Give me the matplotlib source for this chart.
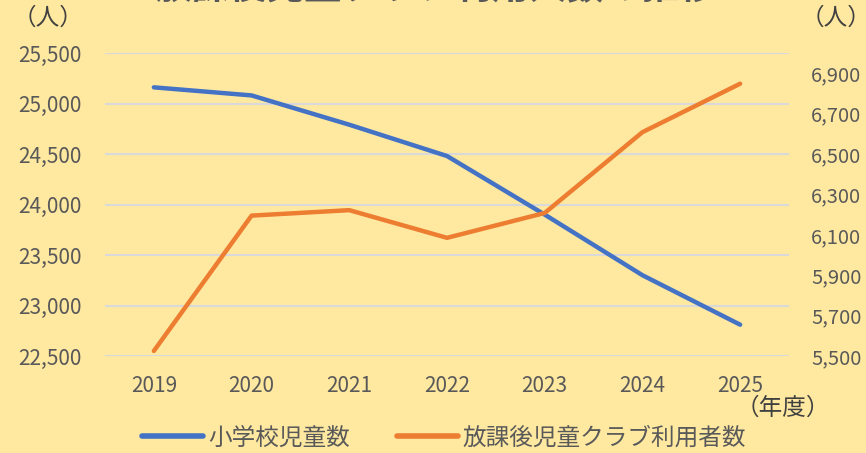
import matplotlib.pyplot as plt
from matplotlib.ticker import FuncFormatter, FixedLocator

plt.rcParams["font.family"] = ["Noto Sans CJK JP", "DejaVu Sans"]

years = ["2019", "2020", "2021", "2022", "2023", "2024", "2025"]
students = [25160, 25080, 24790, 24480, 23900, 23300, 22810]
club_users = [5525, 6195, 6222, 6085, 6208, 6608, 6848]

bg = "#FFE9A1"
text_color = "#595959"
blue = "#4472C4"
orange = "#ED7D31"

fig = plt.figure(figsize=(8.66, 4.53), dpi=100, facecolor=bg)
ax = fig.add_axes([105 / 866, 1 - 356 / 453, (789 - 105) / 866, (356 - 53) / 453])
ax.set_facecolor(bg)
ax2 = ax.twinx()

x = range(len(years))
ax.plot(x, students, color=blue, lw=3.2, solid_capstyle="round", solid_joinstyle="round", zorder=3)
ax2.plot(x, club_users, color=orange, lw=3.2, solid_capstyle="round", solid_joinstyle="round", zorder=3)

ax.set_xlim(-0.5, len(years) - 0.5)
ax.set_ylim(22500, 25500)
ax2.set_ylim(5500, 7000)
ax.set_yticks(range(22500, 25501, 500))
ax2.yaxis.set_major_locator(FixedLocator(range(5500, 6901, 200)))

fmt = FuncFormatter(lambda v, p: f"{int(v):,}")
ax.yaxis.set_major_formatter(fmt)
ax2.yaxis.set_major_formatter(fmt)

ax.set_xticks(list(x))
ax.set_xticklabels(years)

ax.grid(axis="y", color="#D9D9D9", lw=1.5, zorder=0)
ax.set_axisbelow(True)
for a in (ax, ax2):
    for s in a.spines.values():
        s.set_visible(False)
    a.tick_params(length=0, labelsize=15, labelcolor=text_color)
ax2.tick_params(labelsize=14.5)
ax.tick_params(axis="y", pad=17)
ax.tick_params(axis="x", pad=14)
ax2.tick_params(axis="y", pad=16)

# title is partly outside the top edge, as in the original
fig.text(0.503, 1 - 7 / 453, "放課後児童クラブ利用人数の推移", ha="center", va="bottom",
         fontsize=27, fontweight="bold", color=text_color)
fig.text(48 / 866, 1 - 18 / 453, "（人）", ha="center", va="center", fontsize=17, color="#404040")
fig.text(836 / 866, 1 - 18 / 453, "（人）", ha="center", va="center", fontsize=17, color="#404040")
fig.text(783 / 866, 1 - 408 / 453, "（年度）", ha="center", va="center", fontsize=17, color="#404040")

handles = [plt.Line2D([], [], color=blue, lw=4, solid_capstyle="round"),
           plt.Line2D([], [], color=orange, lw=4, solid_capstyle="round")]
fig.legend(handles, ["小学校児童数", "放課後児童クラブ利用者数"], loc="center",
           bbox_to_anchor=(444 / 866, 1 - 438 / 453), ncol=2, frameon=False,
           fontsize=17, handlelength=2.6, handletextpad=0.2, columnspacing=2.0,
           labelcolor=text_color)

fig.savefig("out.png", dpi=100, facecolor=bg)
